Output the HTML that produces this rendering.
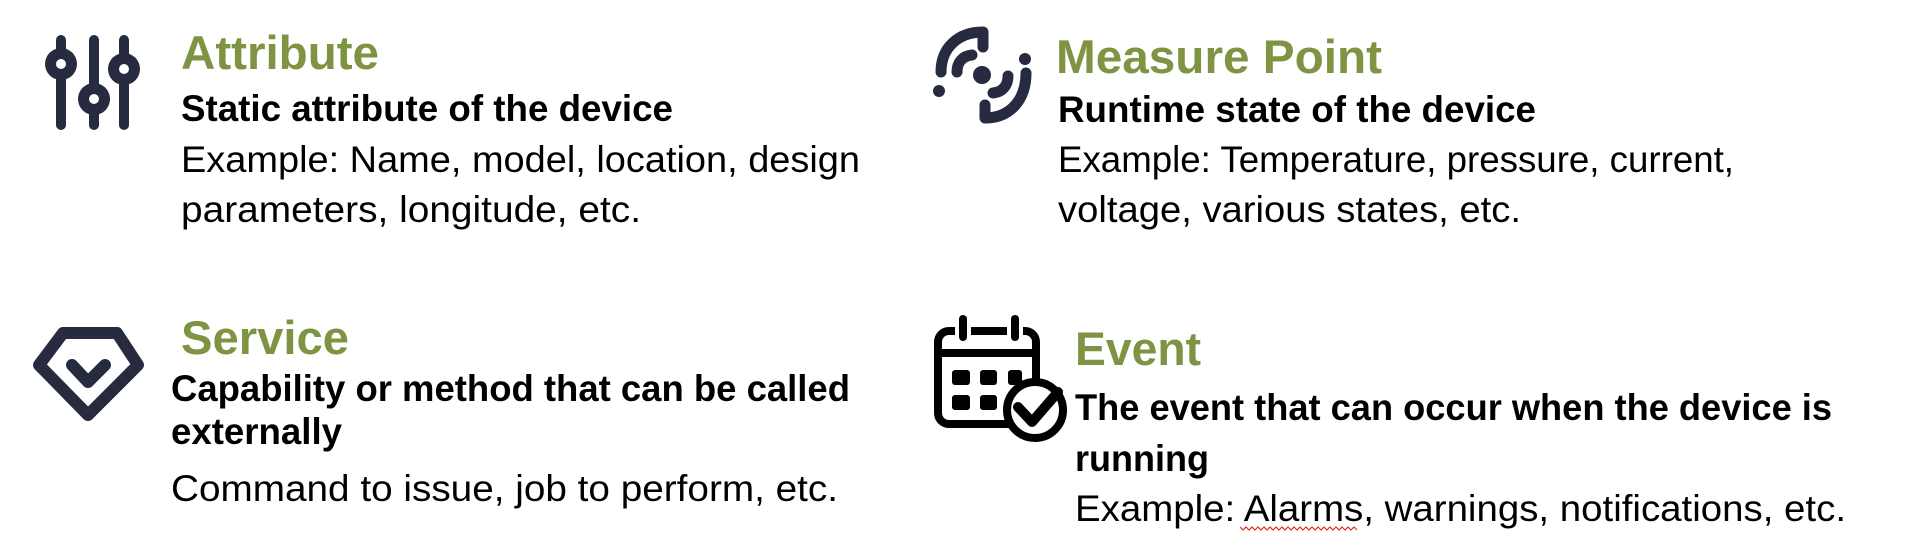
<!DOCTYPE html>
<html><head><meta charset="utf-8"><style>
html,body{margin:0;padding:0;background:#fff;width:1910px;height:558px;overflow:hidden}
svg{display:block}
.t{font-family:"Liberation Sans",Arial,sans-serif;font-weight:bold;fill:#7f9443;font-size:47px}
.b{font-family:"Liberation Sans",Arial,sans-serif;font-weight:bold;fill:#000;font-size:37px}
.r{font-family:"Liberation Sans",Arial,sans-serif;fill:#000;font-size:37px}
</style></head><body>
<svg width="1910" height="558" viewBox="0 0 1910 558" xmlns="http://www.w3.org/2000/svg">
<!-- sliders icon -->
<g stroke="#262b40" stroke-width="10" stroke-linecap="round" fill="none">
<line x1="61" y1="40" x2="61" y2="125"/><line x1="94" y1="40" x2="94" y2="125"/><line x1="124" y1="40" x2="124" y2="125"/>
</g>
<g fill="#262b40"><circle cx="61" cy="64" r="16"/><circle cx="94" cy="99" r="16"/><circle cx="124" cy="69" r="16"/></g>
<g fill="#fff"><circle cx="61" cy="64" r="5"/><circle cx="94" cy="99" r="5"/><circle cx="124" cy="69" r="5"/></g>

<!-- measure point icon -->
<g stroke="#262b40" stroke-width="11" stroke-linecap="round" stroke-linejoin="round" fill="none">
<path d="M941 72 C941 48 958 32 983 32 L983 47"/>
<path d="M957 72 C957 63 962 56 972 55"/>
<path d="M1026 73 C1026 100 1010 118 985 118 L985 105"/>
<path d="M1008 76 C1008 86 1002 92 993 93"/>
</g>
<g fill="#262b40"><circle cx="982" cy="75" r="9"/><circle cx="939" cy="91" r="6"/><circle cx="1025" cy="59" r="6"/></g>

<!-- service icon -->
<g stroke="#262b40" stroke-width="12" stroke-linejoin="round" stroke-linecap="round" fill="none">
<polygon points="63,333 117,333 138,365 88,415 39,365"/>
<polyline points="72,365 88,382 105,365"/>
</g>

<!-- calendar icon -->
<g stroke="#000" stroke-width="8" fill="none" stroke-linecap="round">
<rect x="938" y="331" width="98" height="93" rx="11"/>
<line x1="938" y1="353" x2="1036" y2="353"/>
</g>
<rect x="955" y="326" width="16" height="10" fill="#fff"/><rect x="1007" y="326" width="16" height="10" fill="#fff"/>
<g stroke="#000" stroke-width="8" stroke-linecap="round"><line x1="963" y1="319" x2="963" y2="337"/><line x1="1015" y1="319" x2="1015" y2="337"/></g>
<g fill="#000">
<rect x="952" y="370" width="18" height="15" rx="3"/><rect x="980" y="370" width="17" height="15" rx="3"/><rect x="1008" y="370" width="14" height="15" rx="3"/>
<rect x="952" y="395" width="18" height="15" rx="3"/><rect x="980" y="395" width="17" height="15" rx="3"/>
</g>
<circle cx="1035" cy="410" r="28" fill="#fff" stroke="#000" stroke-width="8"/>
<polyline points="1018,407 1032,422 1058,392" fill="none" stroke="#000" stroke-width="10" stroke-linecap="round" stroke-linejoin="round"/>

<!-- texts -->
<text class="t" x="181" y="69" textLength="198" lengthAdjust="spacingAndGlyphs">Attribute</text>
<text class="b" x="181" y="121" textLength="492" lengthAdjust="spacingAndGlyphs">Static attribute of the device</text>
<text class="r" x="181" y="172" textLength="679" lengthAdjust="spacingAndGlyphs">Example: Name, model, location, design</text>
<text class="r" x="181" y="222" textLength="460" lengthAdjust="spacingAndGlyphs">parameters, longitude, etc.</text>

<text class="t" x="1056" y="73" textLength="326" lengthAdjust="spacingAndGlyphs">Measure Point</text>
<text class="b" x="1058" y="122" textLength="478" lengthAdjust="spacingAndGlyphs">Runtime state of the device</text>
<text class="r" x="1058" y="172" textLength="676" lengthAdjust="spacingAndGlyphs">Example: Temperature, pressure, current,</text>
<text class="r" x="1058" y="222" textLength="463" lengthAdjust="spacingAndGlyphs">voltage, various states, etc.</text>

<text class="t" x="181" y="354" textLength="168" lengthAdjust="spacingAndGlyphs">Service</text>
<text class="b" x="171" y="401" textLength="679" lengthAdjust="spacingAndGlyphs">Capability or method that can be called</text>
<text class="b" x="171" y="444" textLength="171" lengthAdjust="spacingAndGlyphs">externally</text>
<text class="r" x="171" y="501" textLength="667" lengthAdjust="spacingAndGlyphs">Command to issue, job to perform, etc.</text>

<text class="t" x="1075" y="365" textLength="126" lengthAdjust="spacingAndGlyphs">Event</text>
<text class="b" x="1075" y="420" textLength="757" lengthAdjust="spacingAndGlyphs">The event that can occur when the device is</text>
<text class="b" x="1075" y="471" textLength="134" lengthAdjust="spacingAndGlyphs">running</text>
<text class="r" x="1075" y="521" textLength="771" lengthAdjust="spacingAndGlyphs">Example: Alarms, warnings, notifications, etc.</text>
<polyline points="1240,527 1243,530 1246,527 1249,530 1252,527 1255,530 1258,527 1261,530 1264,527 1267,530 1270,527 1273,530 1276,527 1279,530 1282,527 1285,530 1288,527 1291,530 1294,527 1297,530 1300,527 1303,530 1306,527 1309,530 1312,527 1315,530 1318,527 1321,530 1324,527 1327,530 1330,527 1333,530 1336,527 1339,530 1342,527 1345,530 1348,527 1351,530 1354,527 1357,530" fill="none" stroke="#e0301e" stroke-width="1.2"/>
</svg>
</body></html>
